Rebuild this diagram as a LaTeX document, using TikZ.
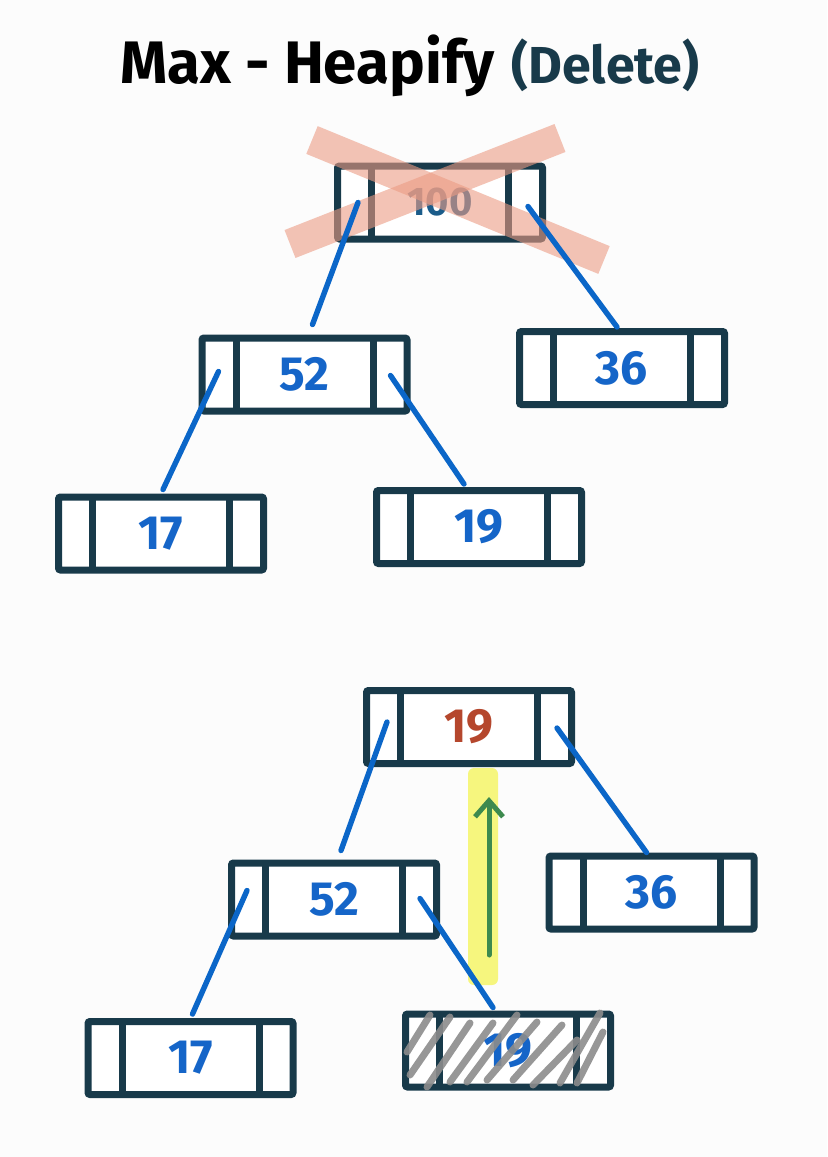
\documentclass[tikz,border=0pt]{standalone}
\usepackage{fontspec}
\setmainfont{Fira Sans}
\usetikzlibrary{positioning, arrows.meta, calc}
\definecolor{boxnavy}{HTML}{183A4A}
\definecolor{linkblue}{HTML}{0B66C8}
\definecolor{numblue}{HTML}{1565C8}
\definecolor{numteal}{HTML}{1B5C8A}
\definecolor{numred}{HTML}{B5472D}
\definecolor{crossred}{HTML}{EC9C84}
\definecolor{markyellow}{HTML}{F6F67E}
\definecolor{upgreen}{HTML}{3D8A4E}
\definecolor{hatchgray}{HTML}{8C8C8C}

\begin{document}
\begin{tikzpicture}[x=0.5pt, y=-0.5pt,
    cell/.style={draw=boxnavy, line width=3.5pt, fill=white, rounded corners=1pt,
      minimum width=102.5pt, minimum height=36.5pt, inner sep=0pt,
      font=\fontsize{24}{26}\selectfont\bfseries, text=numblue,
      path picture={\draw[boxnavy, line width=3.5pt]
        ([xshift=17pt]path picture bounding box.north west) -- ([xshift=17pt]path picture bounding box.south west)
        ([xshift=-17pt]path picture bounding box.north east) -- ([xshift=-17pt]path picture bounding box.south east);}},
    link/.style={linkblue, line width=2.7pt, line cap=round},
    crossbar/.style={crossred, opacity=0.6, line width=15pt},
    hatch/.style={hatchgray, opacity=0.9, line width=3.5pt, line cap=round}]
  \fill[white!99!black] (0,0) rectangle (827,1157);
  \useasboundingbox (0,0) rectangle (827,1157);

  \node[font=\fontsize{30}{32}\selectfont\bfseries, anchor=base west, inner sep=0pt] (ttl) at (120,83) {Max - Heapify};
  \node[font=\fontsize{26}{28}\selectfont\bfseries, text=boxnavy, inner sep=0pt, right=8pt of ttl.base east, anchor=base west] (del) {(Delete)};

  % before
  \node[cell, text=numteal, font=\fontsize{20}{22}\selectfont\bfseries] (n100) at (440,202.5) {100};
  \node[cell] (n52) at (304.5,374.5) {52};
  \node[cell] (n36) at (622,368) {36};
  \node[cell] (n17) at (161,533.5) {17};
  \node[cell] (n19) at (479,527) {19};
  \draw[crossbar] (312,140) -- (604,260);
  \draw[crossbar] (290,244) -- (560,138);
  \draw[link] ($(n100)+(-82,0)$) -- ($(n52.north)+(8,-10)$);
  \draw[link] ($(n100)+(88,4)$) -- ($(n36.north)+(-5,-1)$);
  \draw[link] ($(n52)+(-86,-3)$) -- ($(n17.north)+(2,-4)$);
  \draw[link] ($(n52)+(86,1)$) -- ($(n19.north)+(-15,-3)$);

  % after
  \fill[markyellow, rounded corners=3pt] (468,768) rectangle (498,985);
  \node[cell, text=numred] (m19) at (469,727) {19};
  \node[cell] (m52) at (334,899.5) {52};
  \node[cell] (m36) at (651.5,892.5) {36};
  \node[cell] (m17) at (190.5,1058) {17};
  \node[cell] (m19b) at (508,1050.5) {19};
  \foreach \xa/\ya/\xb/\yb in {407/1052/430/1015, 410/1075/450/1017, 427/1087/470/1023,
      450/1082/493/1023, 467/1082/517/1015, 487/1080/537/1022, 513/1080/562/1025,
      533/1085/577/1040, 560/1083/600/1013, 577/1083/603/1032}
    \draw[hatch] (\xa,\ya) -- (\xb,\yb);
  \draw[link] ($(m19)+(-82,-5)$) -- ($(m52.north)+(7,-9)$);
  \draw[link] ($(m19)+(88,1)$) -- ($(m36.north)+(-5,0)$);
  \draw[link] ($(m52)+(-87,-9)$) -- ($(m17.north)+(2,-4)$);
  \draw[link] ($(m52)+(86,-1)$) -- ($(m19b.north)+(-15,-3)$);
  \coordinate (up0) at (489,955);
  \coordinate (up1) at (489,797);
  \draw[upgreen, line width=2.5pt, line cap=round, -{Straight Barb[length=8pt, width=14pt]}] (up0) -- (up1);
\end{tikzpicture}
\end{document}
